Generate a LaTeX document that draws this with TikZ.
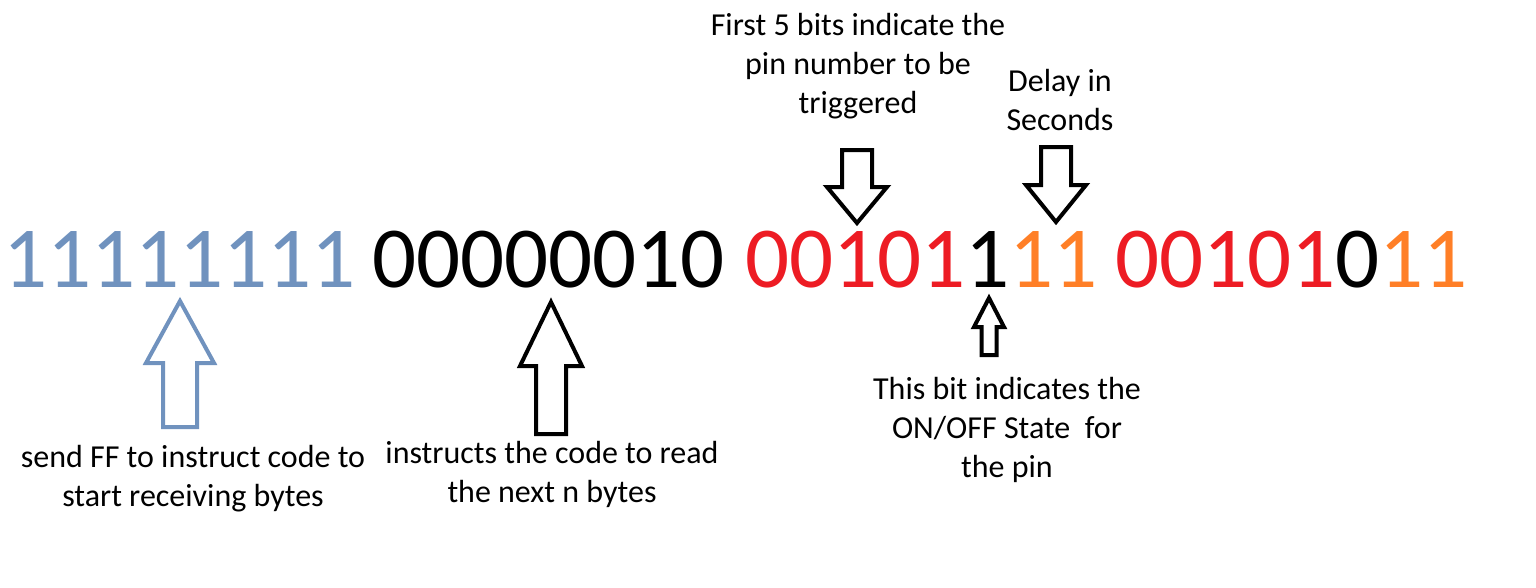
\documentclass[tikz,border=0pt]{standalone}
\usepackage{fontspec}
\setmainfont{Carlito}
\usetikzlibrary{positioning}
\definecolor{paintblue}{RGB}{112,146,190}
\definecolor{paintred}{RGB}{237,28,36}
\definecolor{paintorange}{RGB}{255,127,39}

% block arrow: tip x, tip y, head half width, shaft half width, head length, total length
\newcommand{\blockarrow}[7][]{%
  \draw[blk,#1] (#2,#3) -- ++(#4,#6) -- ++({-#4+#5},0) -- ++(0,{#7-#6})
    -- ++({-2*#5},0) -- ++(0,{#6-#7}) -- ++({-#4+#5},0) -- cycle;}

\begin{document}
\begin{tikzpicture}[x=1pt,y=-1pt]
\tikzset{
  bits/.style={anchor=base west,inner sep=0pt,font=\fontsize{87}{87}\selectfont},
  note/.style={align=center,inner sep=0pt,font=\fontsize{32}{39}\selectfont},
  blk/.style={line width=4pt,line join=miter,fill=white}
}
\useasboundingbox (0,0) rectangle (1536,587);

% The four bytes.
\node[bits,text=paintblue] (ff) at (3,287) {11111111};
\node[bits] (len) at (372,287) {00000010};
\node[bits] (cmdA) at (745,287) {\textcolor{paintred}{00101}1\textcolor{paintorange}{11}};
\node[bits] (cmdB) at (1115,287) {\textcolor{paintred}{00101}0\textcolor{paintorange}{11}};

% Arrows below the bytes.
\blockarrow[draw=paintblue]{180}{301}{34}{17}{62}{126}
\blockarrow{551}{302}{31}{15}{64}{132}
\blockarrow{989}{298}{15}{7.5}{29}{57}

% Arrows above the bytes.
\blockarrow{857}{223}{30}{15}{-36}{-73}
\blockarrow{1056}{222}{30}{15}{-37}{-75}

% Notes.
\node[note] (pinl) at (858,66) {First 5 bits indicate the\\pin number to be\\triggered};
\node[note] (dell) at (1060,100) {Delay in\\Seconds};
\node[note] (onl) at (1007,430) {This bit indicates the\\ON/OFF State~~for\\the pin};
\node[note] (ffl) at (193,479) {send FF to instruct code to\\start receiving bytes};
\node[note] (lenl) at (552,474) {instructs the code to read\\the next n bytes};
\end{tikzpicture}
\end{document}
